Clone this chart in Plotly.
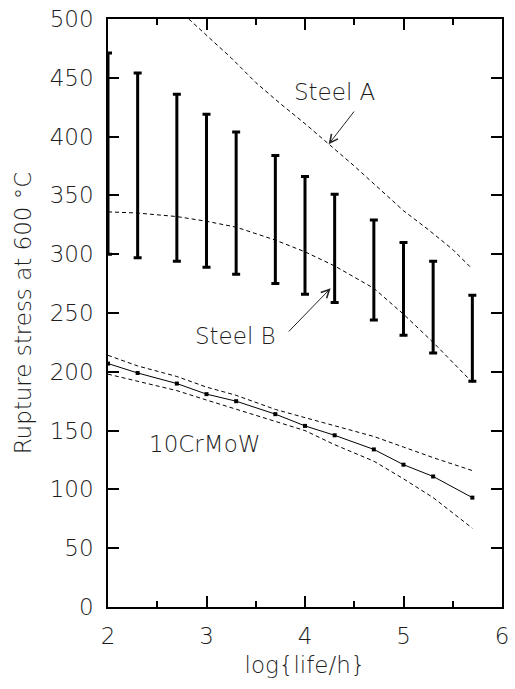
import plotly.graph_objects as go

# log10 of rupture life in hours
log_life = [2.0, 2.301, 2.699, 3.0, 3.301, 3.699, 4.0, 4.301, 4.699, 5.0, 5.301, 5.699]

# scatter band of rupture stress (MPa) at each life
band_top = [471, 454, 436, 419, 404, 384, 366, 351, 329, 310, 294, 265]
band_bottom = [300, 297, 294, 289, 283, 275, 266, 259, 244, 231, 216, 192]

# 10CrMoW: mean prediction and its upper / lower bounds
crmow_mean = [207, 199, 190, 181, 175, 164, 154, 146, 134, 121, 111, 93]
crmow_upper = [214, 205, 196, 187, 180, 168, 161, 154, 145, 136, 127, 116]
crmow_lower = [198, 192, 184, 176, 168, 158, 150, 138, 124, 109, 93, 67]

# Steel A curve
steel_a_x = [2.82, 3.0, 3.25, 3.5, 3.75, 4.0, 4.25, 4.5, 4.75, 5.0, 5.25, 5.5, 5.68]
steel_a_y = [500, 486, 467, 446, 428, 411, 393, 375, 356, 337, 321, 304, 289]

# Steel B curve
steel_b_x = log_life
steel_b_y = [336, 335, 332, 328, 323, 312, 302, 290, 271, 249, 225, 191]

FONT = "DejaVu Sans"
TXT = "#1e1e1e"
FS = 23
WT = 200

band_mid = [(t + b) / 2 for t, b in zip(band_top, band_bottom)]
err_plus = [t - m for t, m in zip(band_top, band_mid)]
err_minus = [m - b for m, b in zip(band_mid, band_bottom)]

dash = "4px,3px"


def txt_font():
    return dict(family=FONT, size=FS, color=TXT, weight=WT)


fig = go.Figure()

fig.add_trace(go.Scatter(
    x=log_life, y=band_mid, mode="markers",
    marker=dict(size=1, color="rgba(0,0,0,0)"),
    error_y=dict(type="data", symmetric=False, array=err_plus, arrayminus=err_minus,
                 color="black", thickness=3, width=4),
    cliponaxis=False, showlegend=False, hoverinfo="skip",
))

for xs, ys in [(steel_a_x, steel_a_y), (steel_b_x, steel_b_y),
               (log_life, crmow_upper), (log_life, crmow_lower)]:
    fig.add_trace(go.Scatter(
        x=xs, y=ys, mode="lines",
        line=dict(color="black", width=1, dash=dash), showlegend=False,
    ))

fig.add_trace(go.Scatter(
    x=log_life, y=crmow_mean, mode="lines+markers",
    line=dict(color="black", width=1),
    marker=dict(symbol="square", size=4, color="black"),
    cliponaxis=False, showlegend=False,
))

# labels and pointer arrows
fig.add_annotation(x=4.30, y=438, text="Steel A", showarrow=False, font=txt_font())
fig.add_annotation(x=4.24, y=393.5, ax=4.51, ay=422.6, axref="x", ayref="y",
                   text="", showarrow=True, arrowhead=5, arrowsize=1.6,
                   arrowwidth=1, arrowcolor="#222")
fig.add_annotation(x=3.29, y=230.5, text="Steel B", showarrow=False, font=txt_font())
fig.add_annotation(x=4.26, y=271, ax=3.82, ay=233, axref="x", ayref="y",
                   text="", showarrow=True, arrowhead=5, arrowsize=1.6,
                   arrowwidth=1, arrowcolor="#222")
fig.add_annotation(x=2.98, y=139, text="10CrMoW", showarrow=False, font=txt_font())

axis_common = dict(
    showline=True, linecolor="black", linewidth=1.5, mirror="allticks",
    ticks="inside", tickcolor="black", tickwidth=1.5,
    showgrid=False, zeroline=False,
    tickfont=txt_font(),
)

fig.update_xaxes(
    range=[2, 6], dtick=1, tick0=2, ticklen=11,
    minor=dict(dtick=0.5, tick0=2, ticklen=6, ticks="inside", tickcolor="black", tickwidth=1.5),
    ticklabelstandoff=8,
    title=dict(text="log{life/h}", font=txt_font(), standoff=9),
    **axis_common,
)
fig.update_yaxes(
    range=[0, 500], dtick=50, tick0=0, ticklen=11,
    ticklabelstandoff=8,
    title=dict(text="Rupture stress at 600 °C", font=txt_font(), standoff=12),
    **axis_common,
)

fig.update_layout(
    width=515, height=689,
    margin=dict(l=108, r=6, t=17, b=82),
    paper_bgcolor="white", plot_bgcolor="white",
    showlegend=False,
)

fig.write_html("out.html")
